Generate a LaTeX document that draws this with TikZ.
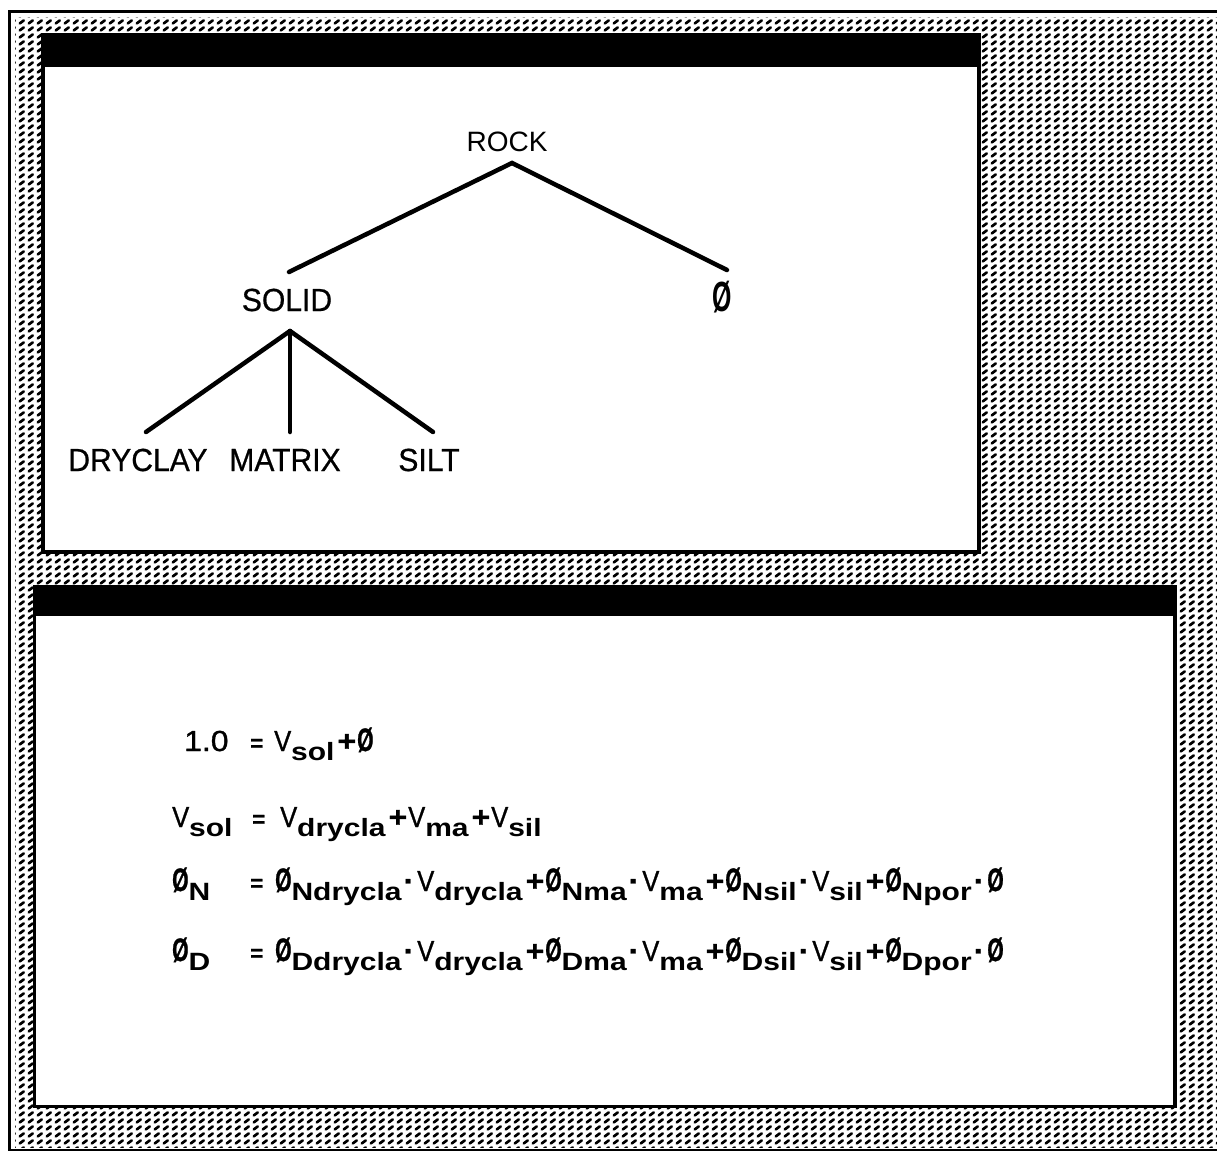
\documentclass[tikz,border=0pt]{standalone}
\usepackage{fontspec}
\setmainfont{Liberation Sans}
\newfontfamily\narrowf[FakeStretch=0.94,FakeBold=0.6]{Liberation Sans}
\newfontfamily\eqf[FakeStretch=1.1,FakeBold=1.2]{Liberation Sans}
\newfontfamily\subf[FakeStretch=1.2]{Liberation Sans}
\usepackage{graphicx}
\usetikzlibrary{patterns}
\pgfdeclarepatternformonly{dashhatch}{\pgfqpoint{0pt}{0pt}}{\pgfqpoint{9pt}{7pt}}{\pgfqpoint{9pt}{7pt}}{%
  \pgfsetlinewidth{3.0pt}%
  \pgfsetroundcap
  \pgfpathmoveto{\pgfqpoint{2.0pt}{1.8pt}}%
  \pgfpathlineto{\pgfqpoint{6.4pt}{5.2pt}}%
  \pgfusepath{stroke}}
\newcommand{\Oz}{\scalebox{0.66}[1.12]{\fontsize{29}{29}\selectfont\bfseries Ø}}
\newcommand{\sbx}[1]{\raisebox{-9pt}{\subf\fontsize{25}{25}\selectfont\bfseries #1}}
\newcommand{\dt}{{\bfseries\kern2pt·\kern3pt}}
\newcommand{\pl}{{\bfseries\kern3pt+\kern1pt}}
\newcommand{\Vv}{\scalebox{0.8}[1]{V}}
\newcommand{\eqs}{\scalebox{0.7}[0.8]{\bfseries =}}
\tikzset{
  treelbl/.style={font=\narrowf\fontsize{32}{32}\selectfont, inner sep=0pt, anchor=center},
  rocklbl/.style={font=\fontsize{28}{28}\selectfont, inner sep=0pt, anchor=center},
  edge/.style={line width=4.5pt, line cap=round},
  eq/.style={font=\eqf\fontsize{29}{29}\selectfont, inner sep=0pt, anchor=base west},
}
\begin{document}
\begin{tikzpicture}[x=1pt,y=-1pt]
\useasboundingbox (0,0) rectangle (1217,1151);
\fill[white] (0,0) rectangle (1217,1151);
% outer frame
\fill[black] (8,10) rectangle (1217,13);
\fill[black] (8,10) rectangle (11,1151);
\fill[black] (8,1149) rectangle (1217,1151);
\fill[pattern=dashhatch] (15,17) rectangle (1217,1147);
% top window
\fill[black] (41,33) rectangle (981,554);
\fill[white] (45,67) rectangle (977,550);
% bottom window
\fill[black] (33,585) rectangle (1177,1108);
\fill[white] (36,616) rectangle (1173,1105);

% tree
\node[rocklbl] (rock) at (507,142) {ROCK};
\coordinate (rocktop) at (512,163);
\coordinate (rockl) at (289,272);
\coordinate (rockr) at (727,270);
\node[inner sep=0pt] (phi) at (722,297) {\scalebox{1.3}{\Oz}};
\node[treelbl] (solid) at (287,300) {SOLID};
\coordinate (solidtop) at (290,331);
\coordinate (dl) at (146,432);
\coordinate (dm) at (290,432);
\coordinate (dr) at (433,432);
\node[treelbl] (drc) at (138,460) {DRYCLAY};
\node[treelbl] (mat) at (285,460) {MATRIX};
\node[treelbl] (silt) at (429,460) {SILT};
\draw[edge] (rockl) -- (rocktop) -- (rockr);
\draw[edge] (solidtop) -- (dl);
\draw[edge] (solidtop) -- (dm);
\draw[edge] (solidtop) -- (dr);

% equations
\node[eq] (e1l) at (184,751) {1.0};
\node[eq] (e1e) at (250,751) {\eqs};
\node[eq] (e1r) at (274,751) {\Vv\sbx{sol}\pl\Oz};

\node[eq] (e2l) at (172,827) {\Vv\sbx{sol}};
\node[eq] (e2e) at (252,827) {\eqs};
\node[eq] (e2r) at (280,827) {\Vv\sbx{drycla}\pl\Vv\sbx{ma}\pl\Vv\sbx{sil}};

\node[eq] (e3l) at (172,891) {\Oz\sbx{N}};
\node[eq] (e3e) at (250,891) {\eqs};
\node[eq] (e3r) at (275,891) {\Oz\sbx{Ndrycla}\dt\Vv\sbx{drycla}\pl\Oz\sbx{Nma}\dt\Vv\sbx{ma}\pl\Oz\sbx{Nsil}\dt\Vv\sbx{sil}\pl\Oz\sbx{Npor}\dt\Oz};

\node[eq] (e4l) at (172,961) {\Oz\sbx{D}};
\node[eq] (e4e) at (250,961) {\eqs};
\node[eq] (e4r) at (275,961) {\Oz\sbx{Ddrycla}\dt\Vv\sbx{drycla}\pl\Oz\sbx{Dma}\dt\Vv\sbx{ma}\pl\Oz\sbx{Dsil}\dt\Vv\sbx{sil}\pl\Oz\sbx{Dpor}\dt\Oz};
\end{tikzpicture}
\end{document}
